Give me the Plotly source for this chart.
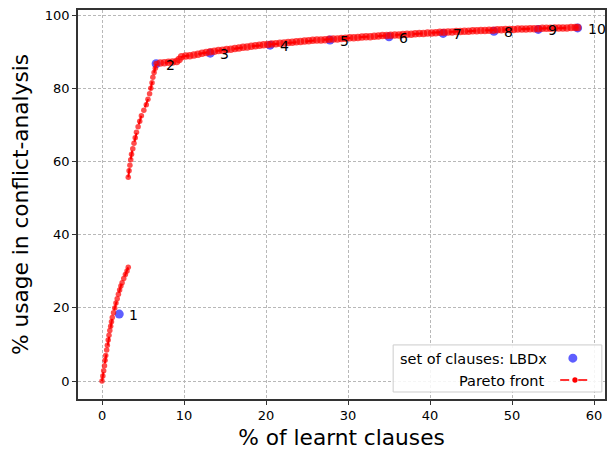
import plotly.graph_objects as go

# LBDx clause sets (blue points)
lbd_labels = ["1", "2", "3", "4", "5", "6", "7", "8", "9", "10"]
lbd_x = [2.1, 6.6, 13.2, 20.5, 27.8, 35.0, 41.6, 47.8, 53.2, 58.0]
lbd_y = [18.3, 86.7, 89.6, 91.8, 93.2, 94.1, 95.0, 95.6, 96.1, 96.5]

# Pareto front, lower part (two pieces separated by a gap)
pareto_low_x = [0.0, 0.1, 0.2, 0.3, 0.37, 0.45, 0.57, 0.65, 0.75, 0.85, 0.95, 1.05, 1.15, 1.25,
                1.4, 1.55, 1.7, 1.85, 2.0, 2.15, 2.3, 2.45, 2.65, 2.85, 3.05, 3.2]
pareto_low_y = [0.0, 1.4, 2.8, 4.2, 5.7, 7.0, 8.5, 9.8, 11.2, 12.5, 13.8, 15.0, 16.2, 17.4,
                18.7, 20.0, 21.3, 22.5, 23.7, 24.9, 26.0, 26.9, 28.0, 29.1, 30.1, 31.1]
pareto_mid_x = [3.2, 3.3, 3.4, 3.5, 3.6, 3.75, 3.9, 4.05, 4.2, 4.4, 4.6, 4.8, 5.1, 5.4,
                5.6, 5.8, 5.95, 6.1, 6.2, 6.35, 6.5, 6.6]
pareto_mid_y = [55.7, 57.5, 59.0, 60.5, 62.0, 63.5, 65.0, 66.5, 68.0, 69.5, 71.0, 72.5, 74.0, 75.5,
                77.0, 78.5, 80.0, 81.5, 83.0, 84.3, 85.5, 86.8]
# Pareto front, upper part
pareto_up_x = [6.6, 7.1, 7.6, 8.1, 8.6, 9.1, 9.4, 9.7, 10.2, 10.7, 11.2, 11.7, 12.2, 12.7, 13.2,
               13.7, 14.2, 14.7, 15.2, 15.7, 16.2, 16.7, 17.2, 17.7, 18.2, 18.7, 19.2, 19.7, 20.2,
               20.7, 21.2, 21.7, 22.2, 22.7, 23.2, 23.7, 24.2, 24.7, 25.2, 25.7, 26.2, 26.7, 27.2,
               27.7, 28.2, 28.7, 29.2, 29.7, 30.2, 30.7, 31.2, 31.7, 32.2, 32.7, 33.2, 33.7, 34.2,
               34.7, 35.2, 35.7, 36.2, 36.7, 37.2, 37.7, 38.2, 38.7, 39.2, 39.7, 40.2, 40.7, 41.2,
               41.7, 42.2, 42.7, 43.2, 43.7, 44.2, 44.7, 45.2, 45.7, 46.2, 46.7, 47.2, 47.7, 48.2,
               48.7, 49.2, 49.7, 50.2, 50.7, 51.2, 51.7, 52.2, 52.7, 53.2, 53.7, 54.2, 54.7, 55.2,
               55.7, 56.2, 56.7, 57.2, 57.7, 58.0]
pareto_up_y = [86.8, 86.9, 87.0, 87.1, 87.2, 87.3, 87.9, 88.6, 88.8, 88.9, 89.1, 89.3, 89.6, 89.8, 90.0,
               90.1, 90.3, 90.4, 90.6, 90.7, 90.9, 91.0, 91.2, 91.3, 91.5, 91.6, 91.8, 91.9, 92.0,
               92.1, 92.2, 92.3, 92.4, 92.5, 92.6, 92.7, 92.8, 92.9, 93.0, 93.1, 93.2, 93.2, 93.3,
               93.4, 93.5, 93.5, 93.6, 93.7, 93.8, 93.8, 93.9, 94.0, 94.1, 94.1, 94.2, 94.3, 94.4,
               94.4, 94.5, 94.6, 94.6, 94.7, 94.8, 94.8, 94.9, 95.0, 95.0, 95.1, 95.1, 95.2, 95.3,
               95.3, 95.4, 95.4, 95.5, 95.5, 95.6, 95.6, 95.7, 95.7, 95.8, 95.8, 95.9, 95.9, 96.0,
               96.0, 96.1, 96.1, 96.1, 96.2, 96.2, 96.2, 96.3, 96.3, 96.3, 96.4, 96.4, 96.4, 96.5,
               96.5, 96.5, 96.5, 96.6, 96.6, 96.6]

x_ticks = [0, 10, 20, 30, 40, 50, 60]
y_ticks = [0, 20, 40, 60, 80, 100]

pareto_x = pareto_low_x + [None] + pareto_mid_x + pareto_up_x[1:]
pareto_y = pareto_low_y + [None] + pareto_mid_y + pareto_up_y[1:]
n_lower = len(pareto_low_x) + 1 + len(pareto_mid_x)
marker_sizes = [5.5] * n_lower + [7.5] * (len(pareto_up_x) - 1)

RED = "rgb(255,0,0)"
BLUE = "rgba(40,40,255,0.75)"
FONT = "DejaVu Sans"
fig = go.Figure()
fig.add_trace(go.Scatter(
    x=lbd_x, y=lbd_y, mode="markers", name="set of clauses: LBDx",
    marker=dict(color=BLUE, size=9, line=dict(width=0)), showlegend=False))
fig.add_trace(go.Scatter(
    x=pareto_x, y=pareto_y, mode="lines+markers", name="Pareto front",
    line=dict(color=RED, width=2, dash="dash"),
    marker=dict(color=RED, size=marker_sizes, line=dict(width=0)), connectgaps=False, showlegend=False))

for lx, ly, lt in zip(lbd_x, lbd_y, lbd_labels):
    fig.add_annotation(x=lx, y=ly, text=lt, showarrow=False, xanchor="left", yanchor="middle",
                       xshift=8, yshift=-1, font=dict(family=FONT, size=14, color="black"))

# manual legend (text first, symbol after, as in the reference)
fig.add_shape(type="rect", xref="paper", yref="paper", x0=0.598, x1=0.994, y0=0.018, y1=0.139,
              line=dict(color="#cccccc", width=1), fillcolor="rgba(255,255,255,0.85)", layer="above")
fig.add_annotation(xref="paper", yref="paper", x=0.893, y=0.103, text="set of clauses: LBDx",
                   showarrow=False, xanchor="right", yanchor="middle",
                   font=dict(family=FONT, size=14.5, color="black"))
fig.add_annotation(xref="paper", yref="paper", x=0.889, y=0.047, text="Pareto front",
                   showarrow=False, xanchor="right", yanchor="middle",
                   font=dict(family=FONT, size=14.5, color="black"))
fig.add_shape(type="circle", xref="paper", yref="paper", x0=0.939 - 0.0085, x1=0.939 + 0.0085,
              y0=0.105 - 0.0116, y1=0.105 + 0.0116, line=dict(width=0),
              fillcolor=BLUE, layer="above")
fig.add_shape(type="line", xref="paper", yref="paper", x0=0.915, x1=0.972, y0=0.049, y1=0.049,
              line=dict(color="rgba(255,0,0,0.8)", width=2, dash="dash"), layer="above")
fig.add_shape(type="circle", xref="paper", yref="paper", x0=0.943 - 0.005, x1=0.943 + 0.005,
              y0=0.049 - 0.007, y1=0.049 + 0.007, line=dict(width=0),
              fillcolor=RED, layer="above")

axis_common = dict(
    showline=True, mirror=True, linecolor="#333333", linewidth=1.5,
    showgrid=True, gridcolor="#b8b8b8", gridwidth=0.8, griddash="3px,2px",
    zeroline=False, ticks="outside", ticklen=4, tickcolor="#333333", tickwidth=1,
    tickfont=dict(family=FONT, size=13, color="black"), automargin=False,
    ticklabeloverflow="allow",
)
fig.update_xaxes(range=[-2.93, 61.34], tickvals=x_ticks, ticktext=[str(v) for v in x_ticks],
                 title=dict(text="% of learnt clauses", font=dict(family=FONT, size=21.7, color="black"),
                            standoff=10),
                 **axis_common)
fig.update_yaxes(range=[-4.9, 101.4], tickvals=y_ticks, ticktext=[str(v) for v in y_ticks],
                 title=dict(text="% usage in conflict-analysis", font=dict(family=FONT, size=21.7, color="black"),
                            standoff=15),
                 **axis_common)
# the page body adds an 8px margin, so the figure is sized to fit the 616x450 window
fig.update_layout(
    width=608, height=442,
    margin=dict(l=70, r=11, t=2, b=51),
    plot_bgcolor="white", paper_bgcolor="white",
    showlegend=False,
)
fig.write_html("out.html")
